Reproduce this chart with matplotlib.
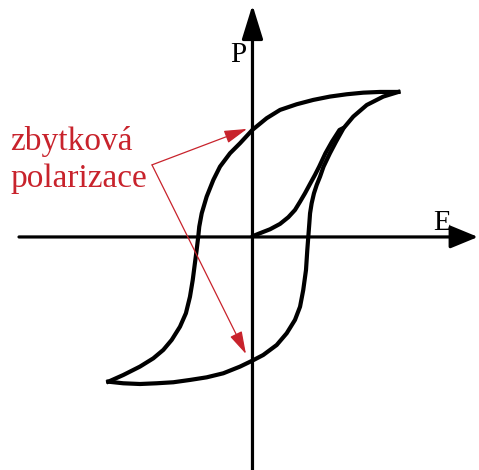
import numpy as np
import matplotlib.pyplot as plt

# --- hysteresis loop data (arbitrary units, saturation ~ 1) ---
# descending branch: +saturation -> -saturation
E_desc = [1.006, 0.879, 0.764, 0.650, 0.534, 0.419, 0.305, 0.190, 0.098, -0.001,
          -0.086, -0.155, -0.224, -0.270, -0.316, -0.350, -0.367, -0.374, -0.385,
          -0.397, -0.412, -0.431, -0.459, -0.500, -0.557, -0.615, -0.684, -0.776,
          -0.891, -0.994]
P_desc = [1.000, 1.000, 0.995, 0.984, 0.968, 0.945, 0.915, 0.876, 0.819, 0.738,
          0.646, 0.577, 0.485, 0.393, 0.278, 0.163, 0.071, 0.002, -0.090,
          -0.181, -0.297, -0.412, -0.526, -0.619, -0.710, -0.779, -0.837, -0.894,
          -0.952, -0.998]

# ascending branch: -saturation -> +saturation
E_asc = [-0.994, -0.891, -0.776, -0.661, -0.546, -0.431, -0.316, -0.201, -0.086,
         -0.001, 0.074, 0.167, 0.236, 0.293, 0.328, 0.350, 0.369, 0.378, 0.385,
         0.392, 0.397, 0.408, 0.424, 0.443, 0.466, 0.490, 0.534, 0.576, 0.628,
         0.695, 0.788, 0.902, 1.006]
P_asc = [-0.998, -1.009, -1.014, -1.009, -1.002, -0.986, -0.968, -0.940, -0.894,
         -0.853, -0.814, -0.745, -0.664, -0.572, -0.481, -0.366, -0.228, -0.090,
         0.002, 0.094, 0.163, 0.232, 0.301, 0.359, 0.416, 0.485, 0.577, 0.657,
         0.750, 0.830, 0.910, 0.968, 1.000]

# initial (virgin) polarisation curve
E_init = [0.000, 0.052, 0.121, 0.190, 0.247, 0.293, 0.328, 0.362, 0.397, 0.431,
          0.460, 0.503, 0.548, 0.600, 0.628]
P_init = [0.005, 0.026, 0.053, 0.090, 0.136, 0.186, 0.243, 0.301, 0.366, 0.428,
          0.485, 0.577, 0.657, 0.738, 0.752]

# remanent polarisation points (where the arrows point) and label text
P_rem_up = 0.745
P_rem_down = -0.807
label_lines = ['zbytková', 'polarizace']

RED = '#c8232c'
SERIF = ['Liberation Serif', 'DejaVu Serif']


def draw_axes(ax):
    """black E / P axes with arrow heads"""
    ax.annotate('', xy=(1.555, 0), xytext=(-1.61, 0),
                arrowprops=dict(arrowstyle='-|>,head_length=1.7,head_width=0.7',
                                lw=2.3, color='black', shrinkA=0, shrinkB=0))
    ax.annotate('', xy=(0, 1.60), xytext=(0, -1.62),
                arrowprops=dict(arrowstyle='-|>,head_length=2.1,head_width=0.65',
                                lw=2.3, color='black', shrinkA=0, shrinkB=0))
    ax.text(-0.10, 1.207, 'P', ha='center', va='baseline', fontsize=21, family=SERIF)
    ax.text(1.307, 0.048, 'E', ha='center', va='baseline', fontsize=21, family=SERIF)


def draw_loop(ax):
    # two branches drawn separately, projecting caps sharpen the tips
    for e, p in [(E_desc, P_desc), (E_asc, P_asc)]:
        ax.plot(e, p, color='black', lw=3.0, solid_capstyle='projecting',
                solid_joinstyle='round')
    ax.plot(E_init, P_init, color='black', lw=3.0, solid_capstyle='round',
            solid_joinstyle='round')


def draw_labels(ax):
    tail = (-0.693, 0.497)
    for tip in [(-0.038, P_rem_up), (-0.045, P_rem_down)]:
        ax.annotate('', xy=tip, xytext=tail,
                    arrowprops=dict(arrowstyle='-|>,head_length=1.4,head_width=0.4',
                                    lw=0.9, color=RED, shrinkA=0, shrinkB=0))
    ax.text(-1.672, 0.600, label_lines[0], ha='left', va='baseline',
            fontsize=24, color=RED, family=SERIF)
    ax.text(-1.672, 0.345, label_lines[1], ha='left', va='baseline',
            fontsize=24, color=RED, family=SERIF)


fig = plt.figure(figsize=(4.79, 4.70), dpi=100)
ax = fig.add_axes([0, 0, 1, 1])
ax.set_xlim(-1.741, 1.562)
ax.set_ylim(-1.607, 1.634)
ax.axis('off')

draw_axes(ax)
draw_loop(ax)
draw_labels(ax)

fig.savefig('out.png', dpi=100)
